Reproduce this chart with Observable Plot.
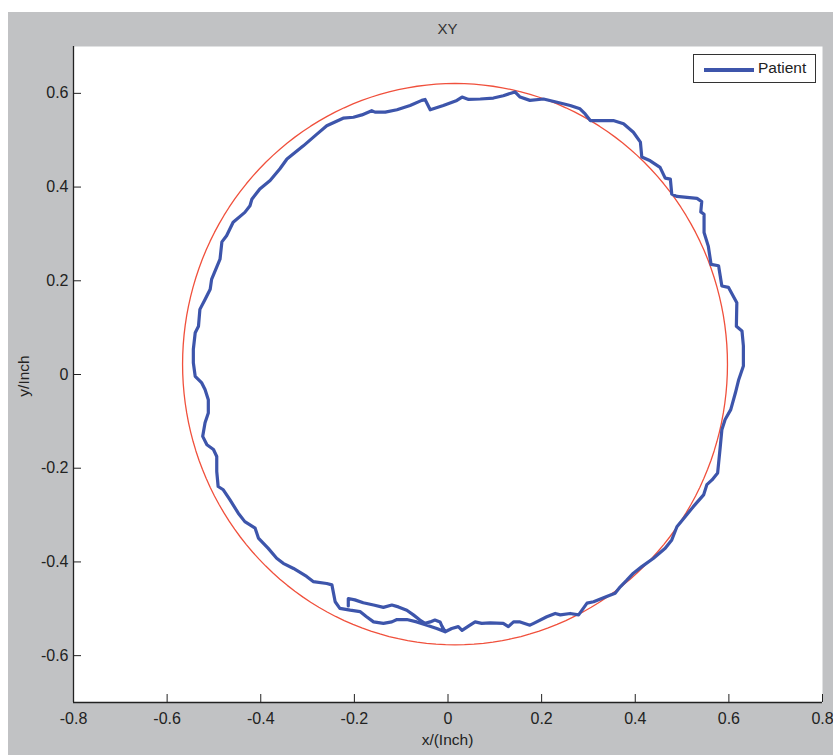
<!DOCTYPE html>
<html>
<head>
<meta charset="utf-8">
<script src="https://cdn.jsdelivr.net/npm/d3@7"></script>
<script src="https://cdn.jsdelivr.net/npm/@observablehq/plot@0.6"></script>
<style>
  html, body { margin: 0; padding: 0; background: #ffffff; width: 833px; height: 755px; overflow: hidden; }
  #fig { position: absolute; left: 8px; top: 12px; width: 825px; height: 743px; background: #c1c2c4;
         font-family: "Liberation Sans", Arial, Helvetica, sans-serif; color: #222; }
  #title { height: 34px; line-height: 34px; padding-left: 65px; width: 749px; text-align: center; font-size: 15px; color: #333; }
  #plot { position: absolute; left: 0; top: 34px; }
  #xlabel { position: absolute; left: 65px; width: 749px; top: 719px; text-align: center; font-size: 15.5px; color: #222; }
  #ylabelwrap { position: absolute; left: 16px; top: 364px; width: 0; height: 0; }
  #ylabel { position: absolute; left: 0; top: 0; font-size: 15.5px; color: #222; white-space: nowrap;
            transform: translate(-50%, -50%) rotate(-90deg); }
  #legend { position: absolute; left: 685px; top: 42px; width: 121px; height: 27px; background: #fff;
            border: 1px solid #333; font-size: 15.5px; color: #222; }
  #legend .sw { position: absolute; left: 10px; top: 13px; width: 50px; height: 4px; background: #3d55ab; }
  #legend .tx { position: absolute; left: 64px; top: 4px; }
</style>
</head>
<body>
<div id="fig">
  <div id="title">XY</div>
  <div id="plot"></div>
  <div id="xlabel">x/(Inch)</div>
  <div id="ylabelwrap"><div id="ylabel"></div></div>
  <div id="legend"><div class="sw"></div><div class="tx"></div></div>
</div>
<script>
// ---- data ----
const chartTitle = "XY";
const xLabel = "x/(Inch)";
const yLabel = "y/Inch";
const seriesName = "Patient";
const xDomain = [-0.8, 0.8];
const yDomain = [-0.7, 0.7];
const xTicks = [-0.8, -0.6, -0.4, -0.2, 0, 0.2, 0.4, 0.6, 0.8];
const yTicks = [-0.6, -0.4, -0.2, 0, 0.2, 0.4, 0.6];

// reference circle (centre and radii, in inches)
const circleCenter = [0.015, 0.022];
const circleRadii = [0.582, 0.599];

// patient trace
const patientX = [
  -0.213, -0.213, -0.199, -0.181, -0.159, -0.138, -0.120, -0.106, -0.088, -0.074, -0.060, -0.049, -0.038, -0.028, -0.017, -0.013, -0.006,
  0.008, 0.022, 0.030, 0.047, 0.058, 0.072, 0.090, 0.118, 0.129, 0.140, 0.154, 0.175, 0.183, 0.211, 0.229, 0.240, 0.261, 0.279,
  0.297, 0.311, 0.339, 0.357, 0.368, 0.382, 0.396, 0.414, 0.439, 0.464, 0.478, 0.489, 0.507, 0.524, 0.546, 0.553, 0.564, 0.576,
  0.581, 0.585, 0.592, 0.604, 0.614, 0.621, 0.631, 0.631, 0.628, 0.616, 0.617, 0.599, 0.585, 0.578, 0.562, 0.556, 0.547, 0.547,
  0.540, 0.542, 0.532, 0.489, 0.478, 0.475, 0.464, 0.453, 0.432, 0.414, 0.411, 0.396, 0.375, 0.353, 0.304, 0.293, 0.282, 0.261,
  0.233, 0.204, 0.175, 0.154, 0.143, 0.118, 0.097, 0.069, 0.044, 0.030, 0.019, -0.010, -0.038, -0.049, -0.056, -0.081, -0.109,
  -0.134, -0.156, -0.163, -0.184, -0.202, -0.224, -0.259, -0.280, -0.309, -0.344, -0.359, -0.380, -0.402, -0.419, -0.423, -0.434,
  -0.459, -0.473, -0.483, -0.487, -0.505, -0.508, -0.519, -0.530, -0.533, -0.540, -0.544, -0.544, -0.540, -0.526, -0.519, -0.512,
  -0.512, -0.519, -0.524, -0.515, -0.501, -0.494, -0.494, -0.491, -0.480, -0.466, -0.448, -0.434, -0.412, -0.405, -0.384, -0.366,
  -0.352, -0.330, -0.302, -0.288, -0.259, -0.248, -0.241, -0.231, -0.209, -0.188, -0.174, -0.159, -0.138, -0.120, -0.109, -0.088,
  -0.067, -0.045, -0.024, -0.006
];
const patientY = [
  -0.494, -0.478, -0.481, -0.487, -0.492, -0.497, -0.492, -0.496, -0.503, -0.513, -0.524, -0.531, -0.528, -0.524, -0.528, -0.537, -0.549,
  -0.542, -0.538, -0.546, -0.535, -0.528, -0.531, -0.530, -0.531, -0.538, -0.528, -0.528, -0.535, -0.531, -0.517, -0.510, -0.513, -0.510, -0.513,
  -0.488, -0.485, -0.474, -0.467, -0.453, -0.439, -0.424, -0.410, -0.392, -0.371, -0.353, -0.325, -0.303, -0.282, -0.257, -0.235, -0.225, -0.210,
  -0.160, -0.118, -0.096, -0.075, -0.039, -0.011, 0.018, 0.061, 0.093, 0.103, 0.153, 0.186, 0.189, 0.232, 0.235, 0.274, 0.303, 0.342,
  0.347, 0.369, 0.376, 0.380, 0.385, 0.417, 0.419, 0.442, 0.456, 0.464, 0.496, 0.517, 0.535, 0.542, 0.542, 0.556, 0.567, 0.574,
  0.581, 0.588, 0.585, 0.592, 0.603, 0.595, 0.590, 0.588, 0.587, 0.592, 0.585, 0.574, 0.565, 0.587, 0.585, 0.574, 0.565,
  0.560, 0.560, 0.563, 0.554, 0.549, 0.547, 0.531, 0.513, 0.488, 0.460, 0.439, 0.414, 0.396, 0.374, 0.360, 0.346,
  0.325, 0.296, 0.283, 0.246, 0.203, 0.182, 0.160, 0.139, 0.103, 0.089, 0.054, 0.025, -0.004, -0.018, -0.032, -0.054,
  -0.082, -0.103, -0.132, -0.150, -0.160, -0.175, -0.207, -0.239, -0.246, -0.267, -0.296, -0.314, -0.328, -0.349, -0.371, -0.392,
  -0.403, -0.414, -0.431, -0.442, -0.446, -0.449, -0.485, -0.499, -0.503, -0.506, -0.517, -0.528, -0.531, -0.528, -0.523, -0.523,
  -0.528, -0.535, -0.542, -0.549
];

// ---- build ----
const patient = patientX.map((x, i) => ({x, y: patientY[i]}));
const circle = d3.range(0, 361, 2).map(a => ({
  x: circleCenter[0] + circleRadii[0] * Math.cos(a * Math.PI / 180),
  y: circleCenter[1] + circleRadii[1] * Math.sin(a * Math.PI / 180)
}));

document.getElementById("title").textContent = chartTitle;
document.getElementById("xlabel").textContent = xLabel;
document.getElementById("ylabel").textContent = yLabel;
document.querySelector("#legend .tx").textContent = seriesName;

const fmt = d => String(d);

const chart = Plot.plot({
  width: 825,
  height: 709,
  marginTop: 0,
  marginLeft: 65,
  marginRight: 11,
  marginBottom: 53,
  style: {background: "transparent", fontFamily: "'Liberation Sans', Arial, Helvetica, sans-serif", fontSize: "16px", color: "#222"},
  x: {domain: xDomain, label: null},
  y: {domain: yDomain, label: null},
  marks: [
    Plot.frame({fill: "white", stroke: "none"}),
    Plot.line(circle, {x: "x", y: "y", stroke: "#f0503c", strokeWidth: 1.3}),
    Plot.line(patient, {x: "x", y: "y", stroke: "#3d55ab", strokeWidth: 3.2, strokeLinejoin: "round"}),
    Plot.ruleX([xDomain[0]], {stroke: "#222", strokeWidth: 1.3}),
    Plot.ruleY([yDomain[0]], {stroke: "#222", strokeWidth: 1.3}),
    Plot.axisX(xTicks, {anchor: "bottom", tickSize: 8, dy: -8, tickPadding: 10, tickFormat: fmt, label: null, stroke: "#222", fill: "#222", fontSize: 16}),
    Plot.axisY(yTicks, {anchor: "left", tickSize: 8, dx: 8, tickPadding: 5, tickFormat: fmt, label: null, stroke: "#222", fill: "#222", fontSize: 16})
  ]
});
document.getElementById("plot").appendChild(chart);
</script>
</body>
</html>
